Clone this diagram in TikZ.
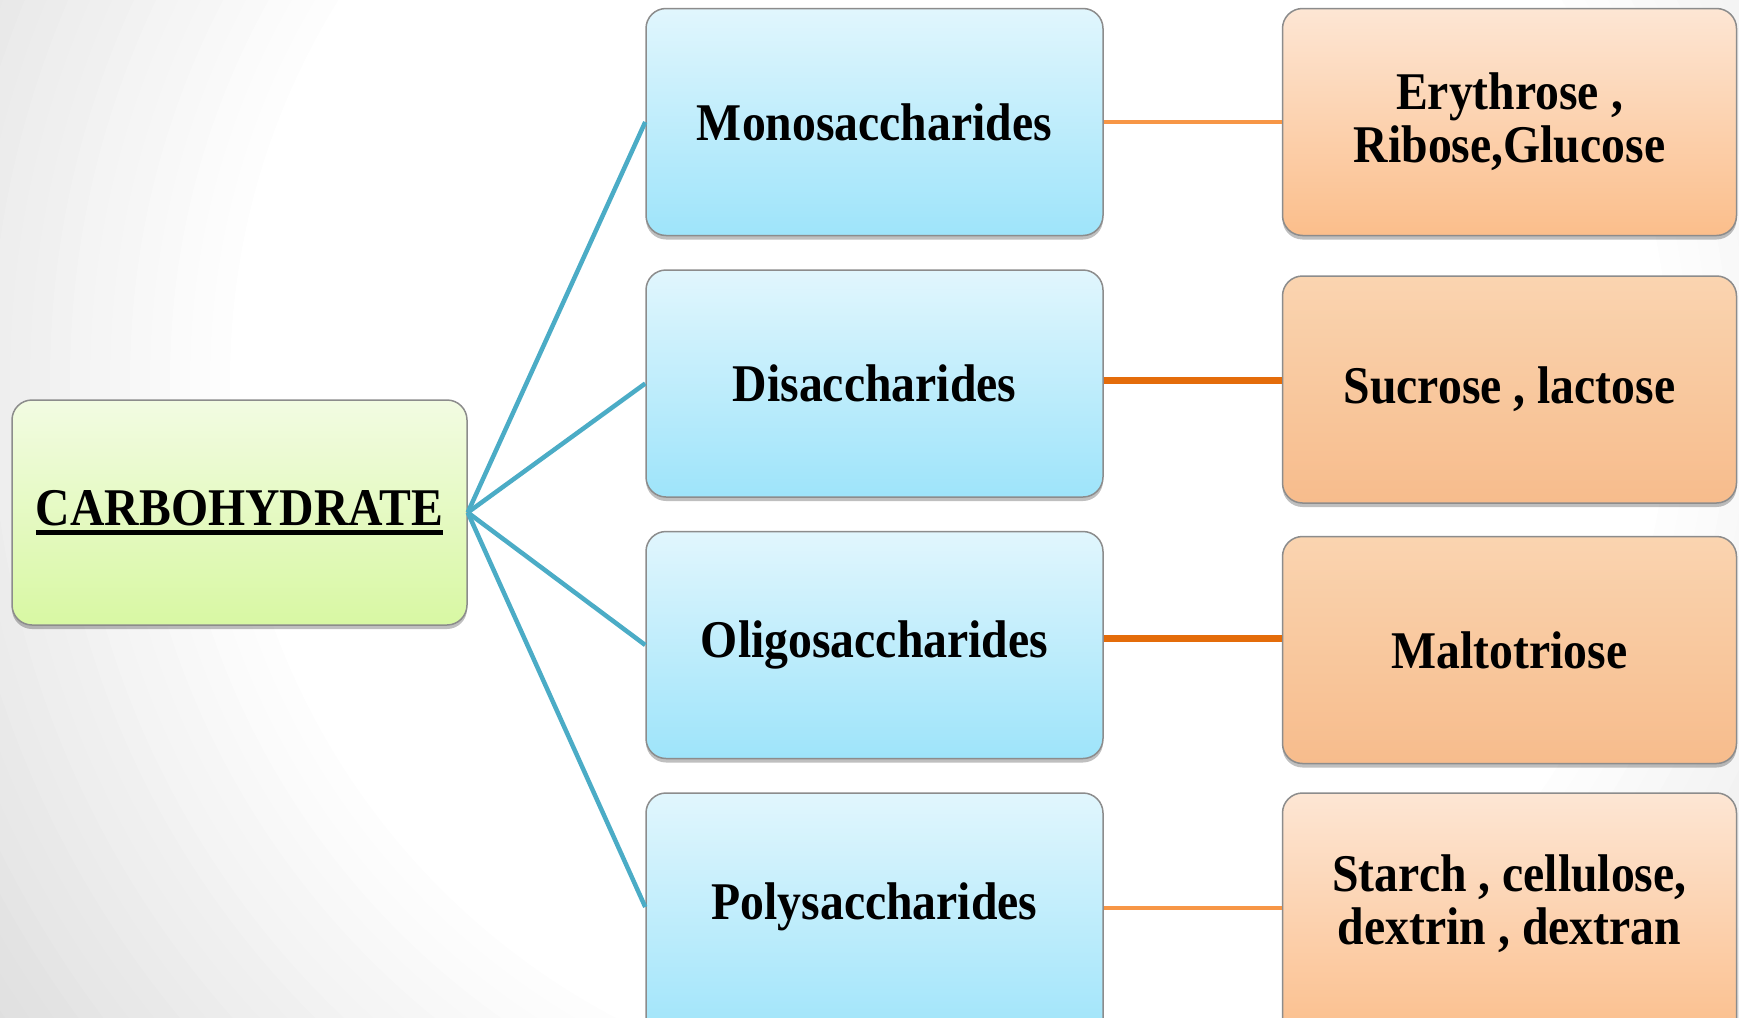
\documentclass[tikz,border=0pt]{standalone}
\usepackage{fontspec}
\setmainfont{Liberation Serif}[FakeStretch=0.9]
\usepackage{tikz}
\usetikzlibrary{positioning}
\usetikzlibrary{shadows}

\definecolor{kindtop}{RGB}{225,246,253}
\definecolor{kindbot}{RGB}{158,228,250}
\definecolor{roottop}{RGB}{242,251,226}
\definecolor{rootbot}{RGB}{216,248,163}
\definecolor{sampletop}{RGB}{253,230,212}
\definecolor{samplebot}{RGB}{251,190,139}
\definecolor{hottop}{RGB}{250,212,176}
\definecolor{hotbot}{RGB}{247,188,140}
\definecolor{branchblue}{RGB}{75,172,198}
\definecolor{linkorange}{RGB}{247,150,70}
\definecolor{linkdark}{RGB}{228,108,10}
\definecolor{rim}{RGB}{140,140,140}

% keep the cut-off bottom row's text level with the others
\newcommand{\lift}[1]{\raisebox{11pt}[\height][\depth]{#1}}
% heavier underline than \underline gives
\newcommand{\heavyline}[1]{\setbox0\hbox{#1}\rlap{\rule[-9pt]{\wd0}{4.5pt}}\box0}

\begin{document}
\begin{tikzpicture}[
        x=1pt, y=-1pt,
        node distance=33pt,
        every node/.style={font=\fontsize{53}{53}\selectfont\bfseries, align=center},
        box/.style={draw=rim, line width=1.5pt, rectangle, rounded corners=20pt,
                    drop shadow={shadow xshift=0pt, shadow yshift=-4pt, opacity=0.25, fill=black}},
        root/.style={box, top color=roottop, bottom color=rootbot,
                     minimum width=455pt, minimum height=225pt},
        kind/.style={box, top color=kindtop, bottom color=kindbot,
                     minimum width=457pt, minimum height=227pt},
        sample/.style={box, top color=sampletop, bottom color=samplebot,
                       minimum width=454pt, minimum height=227pt},
        samplehot/.style={sample, top color=hottop, bottom color=hotbot},
        branch/.style={draw=branchblue, line width=4.5pt},
        link/.style={draw=linkorange, line width=4pt},
        linkhot/.style={draw=linkdark, line width=7pt}
    ]
        \clip (0,0) rectangle (1739,1017);
        \fill[black!12] (0,0) rectangle (1739,1017);
        % soft grey vignette, white round the middle
        \foreach \r [evaluate=\r as \g using {max(0,12*(\r-720)/424)}] in {1160,1140,...,720}
            \fill[black!\g] (950,380) circle (\r);

        \node[root] (carb) at (239.5,512.5) {\heavyline{CARBOHYDRATE}};
        \node[kind] (mono) at (874.5,122) {Monosaccharides};
        \node[kind, below=of mono] (di) {Disaccharides};
        \node[kind, below=of di] (oligo) {Oligosaccharides};
        \node[kind, below=of oligo, minimum height=250pt] (poly) {\lift{Polysaccharides}};

        \node[sample, right=178pt of mono] (monoeg) {Erythrose ,\\ Ribose,Glucose};
        \node[samplehot, right=178pt of di, yshift=-6pt] (dieg) {Sucrose , lactose};
        \node[samplehot, right=178pt of oligo, yshift=-5pt] (oligoeg) {Maltotriose};
        \node[sample, right=178pt of poly, minimum height=250pt] (polyeg)
            {\lift{\begin{tabular}{@{}c@{}}Starch , cellulose,\\ dextrin , dextran\end{tabular}}};

        \draw[branch] (carb.east) -- (mono.west);
        \draw[branch] (carb.east) -- (di.west);
        \draw[branch] (carb.east) -- (oligo.west);
        \draw[branch] (carb.east) -- ([yshift=11pt]poly.west);

        \draw[link] (mono.east) -- (mono.east -| monoeg.west);
        \draw[linkhot] ([yshift=3pt]di.east) -- ([yshift=3pt]di.east -| dieg.west);
        \draw[linkhot] ([yshift=7pt]oligo.east) -- ([yshift=7pt]oligo.east -| oligoeg.west);
        \draw[link] ([yshift=10pt]poly.east) -- ([yshift=10pt]poly.east -| polyeg.west);
    \end{tikzpicture}
\end{document}
